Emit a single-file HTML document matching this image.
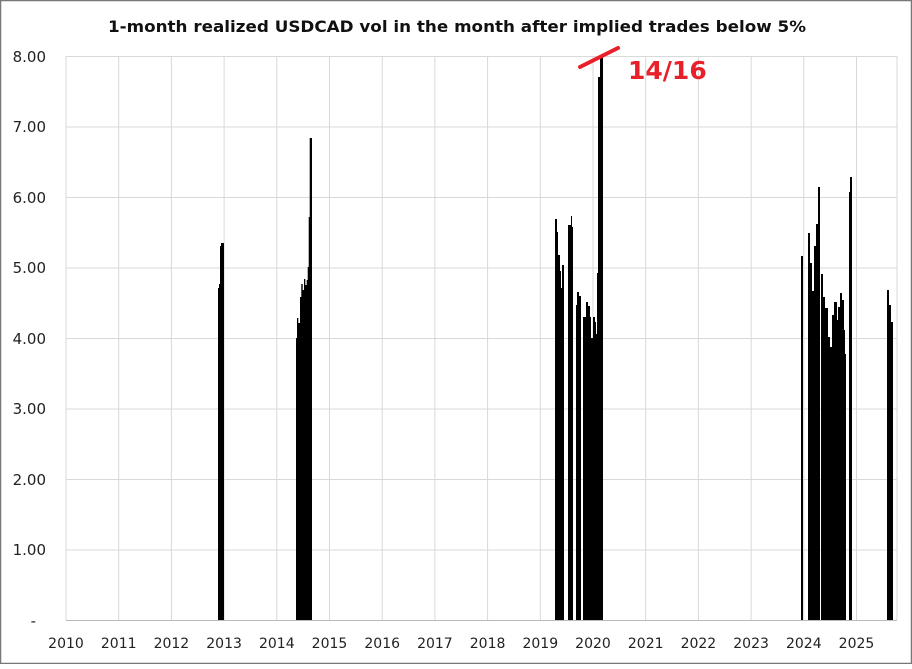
<!DOCTYPE html><html><head><style>body{margin:0;background:#fff}</style></head><body>
<svg width="912" height="664" xmlns="http://www.w3.org/2000/svg" font-family="DejaVu Sans, Liberation Sans, sans-serif">
<rect x="0.5" y="0.5" width="911" height="663" fill="#fff" stroke="#777" stroke-width="1.5"/>
<text x="108" y="32" font-size="16" font-weight="bold" fill="#111" textLength="698" lengthAdjust="spacingAndGlyphs">1-month realized USDCAD vol in the month after implied trades below 5%</text>
<g stroke="#d9d9d9" stroke-width="1">
<line x1="66" y1="56.5" x2="897" y2="56.5"/><line x1="66" y1="127" x2="897" y2="127"/><line x1="66" y1="197.5" x2="897" y2="197.5"/><line x1="66" y1="268" x2="897" y2="268"/><line x1="66" y1="338.5" x2="897" y2="338.5"/><line x1="66" y1="409" x2="897" y2="409"/><line x1="66" y1="479.5" x2="897" y2="479.5"/><line x1="66" y1="550" x2="897" y2="550"/>
<line x1="66" y1="56" x2="66" y2="620"/><line x1="118.7" y1="56" x2="118.7" y2="620"/><line x1="171.4" y1="56" x2="171.4" y2="620"/><line x1="224.1" y1="56" x2="224.1" y2="620"/><line x1="276.8" y1="56" x2="276.8" y2="620"/><line x1="329.5" y1="56" x2="329.5" y2="620"/><line x1="382.2" y1="56" x2="382.2" y2="620"/><line x1="434.9" y1="56" x2="434.9" y2="620"/><line x1="487.6" y1="56" x2="487.6" y2="620"/><line x1="540.3" y1="56" x2="540.3" y2="620"/><line x1="593" y1="56" x2="593" y2="620"/><line x1="645.7" y1="56" x2="645.7" y2="620"/><line x1="698.4" y1="56" x2="698.4" y2="620"/><line x1="751.1" y1="56" x2="751.1" y2="620"/><line x1="803.8" y1="56" x2="803.8" y2="620"/><line x1="856.5" y1="56" x2="856.5" y2="620"/>
<line x1="897" y1="56" x2="897" y2="620"/>
</g>
<line x1="66" y1="620.5" x2="897" y2="620.5" stroke="#bbb"/>
<g fill="#000">
<polygon points="218,620 218,288 219,288 219,284 220,284 220,246 221,246 221,243 224,243 224,620"/>
<polygon points="296,620 296,338 297,338 297,318 298.3,318 298.3,323 300,323 300,297 301.3,297 301.3,284 302.7,284 302.7,290 304,290 304,279 305.3,279 305.3,285 306.7,285 306.7,280 307.7,280 307.7,267 308.7,267 308.7,217 309.7,217 309.7,138 312,138 312,620"/>
<polygon points="555,620 555,219 557,219 557,232 558,232 558,255 560,255 560,271 561,271 561,288 562,288 562,265 564,265 564,620"/>
<polygon points="568,620 568,225 571,225 571,216 572,216 572,227 573,227 573,620"/>
<polygon points="576,620 576,305 577,305 577,292 579,292 579,296 581,296 581,620"/>
<polygon points="583,620 583,317 586,317 586,302 588,302 588,306 590,306 590,317 591,317 591,338 593,338 593,317 595,317 595,322 596,322 596,334 597,334 597,273 598,273 598,77 600,77 600,57 603,57 603,620"/>
<polygon points="801,620 801,256 803,256 803,620"/>
<polygon points="808,620 808,233 810,233 810,263 812,263 812,291 814,291 814,246 816,246 816,224 818,224 818,187 820,187 820,620"/>
<polygon points="821,620 821,274 823,274 823,297 825,297 825,308 828,308 828,337 830,337 830,347 832,347 832,315 834,315 834,302 837,302 837,320 838,320 838,307 840,307 840,293 842,293 842,300 844,300 844,330 845,330 845,354 846,354 846,620"/>
<polygon points="849,620 849,192 850,192 850,177 852,177 852,620"/>
<polygon points="887,620 887,290 889,290 889,305 891,305 891,322 893,322 893,620"/>
</g>
<line x1="580" y1="67" x2="618" y2="48" stroke="#e8202a" stroke-width="4" stroke-linecap="round"/>
<text x="628" y="79" font-size="25" font-weight="bold" fill="#e8202a">14/16</text>
<g font-size="15" fill="#222" text-anchor="end">
<text x="46" y="62">8.00</text><text x="46" y="132">7.00</text><text x="46" y="203">6.00</text><text x="46" y="273">5.00</text><text x="46" y="344">4.00</text><text x="46" y="414">3.00</text><text x="46" y="485">2.00</text><text x="46" y="555">1.00</text><text x="36" y="626">-</text>
</g>
<g font-size="14" fill="#222" text-anchor="middle">
<text x="66" y="648">2010</text><text x="118.7" y="648">2011</text><text x="171.4" y="648">2012</text><text x="224.1" y="648">2013</text><text x="276.8" y="648">2014</text><text x="329.5" y="648">2015</text><text x="382.2" y="648">2016</text><text x="434.9" y="648">2017</text><text x="487.6" y="648">2018</text><text x="540.3" y="648">2019</text><text x="593" y="648">2020</text><text x="645.7" y="648">2021</text><text x="698.4" y="648">2022</text><text x="751.1" y="648">2023</text><text x="803.8" y="648">2024</text><text x="856.5" y="648">2025</text>
</g>
</svg>
</body></html>
